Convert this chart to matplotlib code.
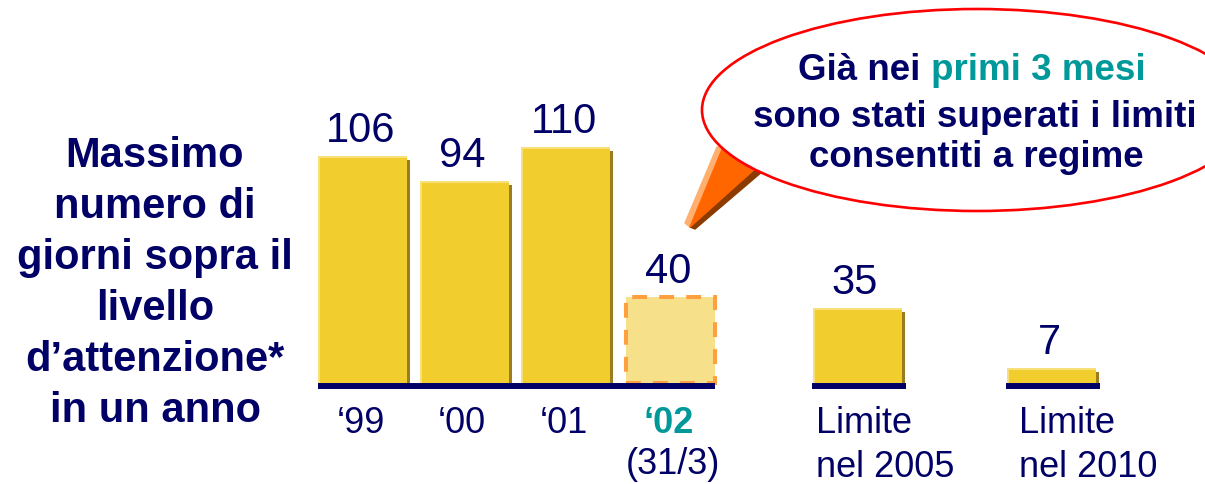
import matplotlib
matplotlib.use("Agg")
import matplotlib.pyplot as plt
from matplotlib.patches import Ellipse, Polygon

# ---- data ----
categories = ["\u201899", "\u201800", "\u201801", "\u201802", "Limite\nnel 2005", "Limite\nnel 2010"]
values = [106, 94, 110, 40, 35, 7]
sub_label_02 = "(31/3)"
title_lines = ["Massimo", "numero di", "giorni sopra il", "livello",
               "d\u2019attenzione*", "in un anno"]
callout_l1a = "Già nei "
callout_l1b = "primi 3 mesi"
callout_l2 = "sono stati superati i limiti"
callout_l3 = "consentiti a regime"

# ---- layout / style ----
positions = [362.5, 464, 565.5, 670.5, 857, 1051.5]
bar_w = 89
PX = 2.145           # pixels per unit
BASE = 384           # pixel row of zero
NAVY = "#000066"
TEAL = "#009999"
YEL = "#F2CD2E"
YEL_HI = "#F7E07A"
YEL_SH = "#9A7D1C"
FONT = ["Liberation Sans", "DejaVu Sans"]

W, H = 1205, 485
fig = plt.figure(figsize=(W / 100, H / 100), dpi=100)
fig.patch.set_facecolor("white")

ax = fig.add_axes([0, 0, 1, 1])
ax.set_xlim(0, W)
ax.set_ylim(-(H - BASE) / PX, BASE / PX)
ax.axis("off")

ann = fig.add_axes([0, 0, 1, 1])
ann.set_xlim(0, W)
ann.set_ylim(H, 0)
ann.axis("off")
ann.patch.set_alpha(0)

u = 1 / PX  # one pixel in data units
for i, (x, v) in enumerate(zip(positions, values)):
    if i == 3:
        ax.bar(x, v, width=bar_w, color="#F7E08A", edgecolor="#FFA040",
               linewidth=2.9, linestyle=(0, (3.7, 3.0)), zorder=2)
    else:
        # shadow
        ax.bar(x + 3, v - 4 * u, width=bar_w, color=YEL_SH, zorder=1)
        # highlight
        ax.bar(x, v, width=bar_w, color=YEL_HI, zorder=2)
        # main body
        ax.bar(x + 1, v - 2 * u, width=bar_w - 2, color=YEL, zorder=3)
    ax.annotate(str(v), (x - 2, v), xytext=(0, 10.8), textcoords="offset points",
                ha="center", va="baseline", fontsize=30, color=NAVY,
                family=FONT, zorder=5)

# baselines
yb = -3 * u
ax.plot([positions[0] - bar_w / 2, positions[3] + bar_w / 2], [yb, yb],
        color=NAVY, lw=4.3, solid_capstyle="butt", zorder=4)
for x in positions[4:]:
    ax.plot([x - bar_w / 2 - 1, x + bar_w / 2 + 4], [yb, yb],
            color=NAVY, lw=4.3, solid_capstyle="butt", zorder=4)

# x labels
for i in range(4):
    ann.text(positions[i] - 2, 433, categories[i], ha="center", va="baseline",
             fontsize=26, family=FONT,
             color=TEAL if i == 3 else NAVY,
             fontweight="bold" if i == 3 else "normal")
ann.text(positions[3] + 2, 474, sub_label_02, ha="center", va="baseline",
         fontsize=26, family=FONT, color=NAVY)
for i, xl in zip([4, 5], [816, 1019]):
    l1, l2 = categories[i].split("\n")
    ann.text(xl, 433, l1, ha="left", va="baseline", fontsize=26, family=FONT, color=NAVY)
    ann.text(xl, 477, l2, ha="left", va="baseline", fontsize=26, family=FONT, color=NAVY)

# left title
for k, line in enumerate(title_lines):
    ann.text(155, 167 + 51 * k, line, ha="center", va="baseline", fontsize=30,
             fontweight="bold", family=FONT, color=NAVY)

# callout tail
tail_hi = Polygon([(717, 148), (685, 224), (690, 228), (723, 148)],
                  closed=True, color="#FFB070", zorder=1)
tail = Polygon([(723, 148), (690, 228), (757, 168)], closed=True,
               color="#FF6600", zorder=2)
tail_sh = Polygon([(757, 168), (690, 228), (695, 230), (763, 172)],
                  closed=True, color="#8B3A00", zorder=1)
for p in (tail_hi, tail_sh, tail):
    ann.add_patch(p)
ell = Ellipse((977, 111), 550, 202, facecolor="white", edgecolor="#FF0000",
              linewidth=1.9, zorder=3)
ann.add_patch(ell)

# callout text
fig.canvas.draw()
r = fig.canvas.get_renderer()
ta = ann.text(0, 80, callout_l1a, ha="left", va="baseline", fontsize=26.5,
              fontweight="bold", family=FONT, color=NAVY, zorder=4)
tb = ann.text(0, 80, callout_l1b, ha="left", va="baseline", fontsize=26.5,
              fontweight="bold", family=FONT, color=TEAL, zorder=4)
wa = ta.get_window_extent(r).width
wb = tb.get_window_extent(r).width
x0 = 972 - (wa + wb) / 2
ta.set_x(x0)
tb.set_x(x0 + wa)
ann.text(975, 127, callout_l2, ha="center", va="baseline", fontsize=26.5,
         fontweight="bold", family=FONT, color=NAVY, zorder=4)
ann.text(976, 167, callout_l3, ha="center", va="baseline", fontsize=26.5,
         fontweight="bold", family=FONT, color=NAVY, zorder=4)

fig.savefig("out.png", dpi=100)
